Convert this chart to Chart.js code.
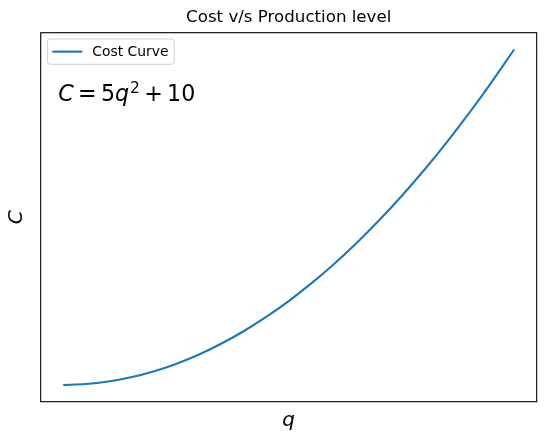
<!DOCTYPE html>
<html>
<head>
<meta charset="utf-8">
<script src="https://cdn.jsdelivr.net/npm/chart.js@4"></script>
<style>
  html, body { margin: 0; padding: 0; background: #fff; }
  #wrap { width: 546px; height: 442px; }
</style>
</head>
<body>
<div id="wrap"><canvas id="myChart"></canvas></div>
<script>
// production level q and cost C
const qValues = [0, 0.5, 1, 1.5, 2, 2.5, 3, 3.5, 4, 4.5, 5, 5.5, 6, 6.5, 7, 7.5, 8, 8.5, 9, 9.5, 10];
const costValues = [10, 11.3, 15, 21.3, 30, 41.3, 55, 71.3, 90, 111.3, 135, 161.3, 190, 221.3, 255, 291.3, 330, 371.3, 415, 461.3, 510];
const seriesLabel = "Cost Curve";
const chartTitle = "Cost v/s Production level";

const FONT = "'DejaVu Sans', sans-serif";
const BLUE = "#1f77b4";

// frame, title (centred on the axes), legend and equation, matplotlib style
const extras = {
  id: "extras",
  afterDraw(chart) {
    const { ctx, chartArea: a } = chart;
    ctx.save();
    ctx.strokeStyle = "#000";
    ctx.lineWidth = 1.1;
    ctx.strokeRect(a.left, a.top, a.right - a.left, a.bottom - a.top);

    ctx.fillStyle = "#000";
    ctx.font = "16.67px " + FONT;
    ctx.textAlign = "center";
    ctx.textBaseline = "middle";
    ctx.fillText(chartTitle, (a.left + a.right) / 2, 17.8);

    // legend box
    const lx = a.left + 6.6, ly = a.top + 6.3, lw = 127, lh = 25.3, r = 3;
    ctx.beginPath();
    ctx.roundRect(lx, ly, lw, lh, r);
    ctx.fillStyle = "rgba(255,255,255,0.8)";
    ctx.fill();
    ctx.strokeStyle = "#d0d0d0";
    ctx.lineWidth = 1;
    ctx.stroke();
    ctx.beginPath();
    ctx.moveTo(lx + 5, ly + lh / 2);
    ctx.lineTo(lx + 35, ly + lh / 2);
    ctx.strokeStyle = BLUE;
    ctx.lineWidth = 2.1;
    ctx.stroke();
    ctx.fillStyle = "#000";
    ctx.font = "13.9px " + FONT;
    ctx.textAlign = "left";
    ctx.fillText(chart.data.datasets[0].label, lx + 45, ly + lh / 2 + 0.5);

    // equation text, laid out like mathtext: thin spaces round = and +
    const fs = 22.2;
    const sp = 0.195 * fs;
    const it = "italic " + fs + "px " + FONT;
    const rm = fs + "px " + FONT;
    const sup = (fs * 0.7) + "px " + FONT;
    const base = 100.5;
    let x = a.left + 17.5;
    const put = (t, f, dy, gapBefore, gapAfter) => {
      x += gapBefore;
      ctx.font = f;
      ctx.fillText(t, x, base + dy);
      x += ctx.measureText(t).width + gapAfter;
    };
    ctx.textAlign = "left";
    ctx.textBaseline = "alphabetic";
    put("C", it, 0, 0, 0);
    put("=", rm, 0, sp, sp);
    put("5", rm, 0, 0, 0);
    put("q", it, 0, 0, 0);
    put("2", sup, -8, 0.8, 0);
    put("+", rm, 0, sp, sp);
    put("10", rm, 0, 0, 0);
    ctx.restore();
  }
};

const ctx = document.getElementById("myChart").getContext("2d");
new Chart(ctx, {
  type: "line",
  data: {
    labels: qValues,
    datasets: [
      {
        label: seriesLabel,
        data: qValues.map((q, i) => ({ x: q, y: costValues[i] })),
        borderColor: BLUE,
        borderWidth: 2.1,
        pointRadius: 0,
        fill: false,
        cubicInterpolationMode: "monotone"
      }
    ]
  },
  options: {
    responsive: true,
    maintainAspectRatio: false,
    animation: false,
    layout: { padding: { left: 0, right: 9.3, top: 32.7, bottom: 9 } },
    plugins: {
      legend: { display: false },
      tooltip: { enabled: false },
      title: { display: false }
    },
    scales: {
      x: {
        type: "linear",
        min: -0.5,
        max: 10.5,
        ticks: { display: false },
        grid: { display: false, drawTicks: false },
        border: { display: false },
        title: {
          display: true,
          text: "q",
          color: "#000",
          font: { family: FONT, size: 20, style: "italic", lineHeight: 1.2 },
          padding: { top: 7.3, bottom: 0 }
        }
      },
      y: {
        min: -15,
        max: 535,
        ticks: { display: false },
        grid: { display: false, drawTicks: false },
        border: { display: false },
        title: {
          display: true,
          text: "C",
          color: "#000",
          font: { family: FONT, size: 20, style: "italic", lineHeight: 1.2 },
          padding: { top: 5, bottom: 11.7 }
        }
      }
    }
  },
  plugins: [extras]
});
</script>
</body>
</html>
